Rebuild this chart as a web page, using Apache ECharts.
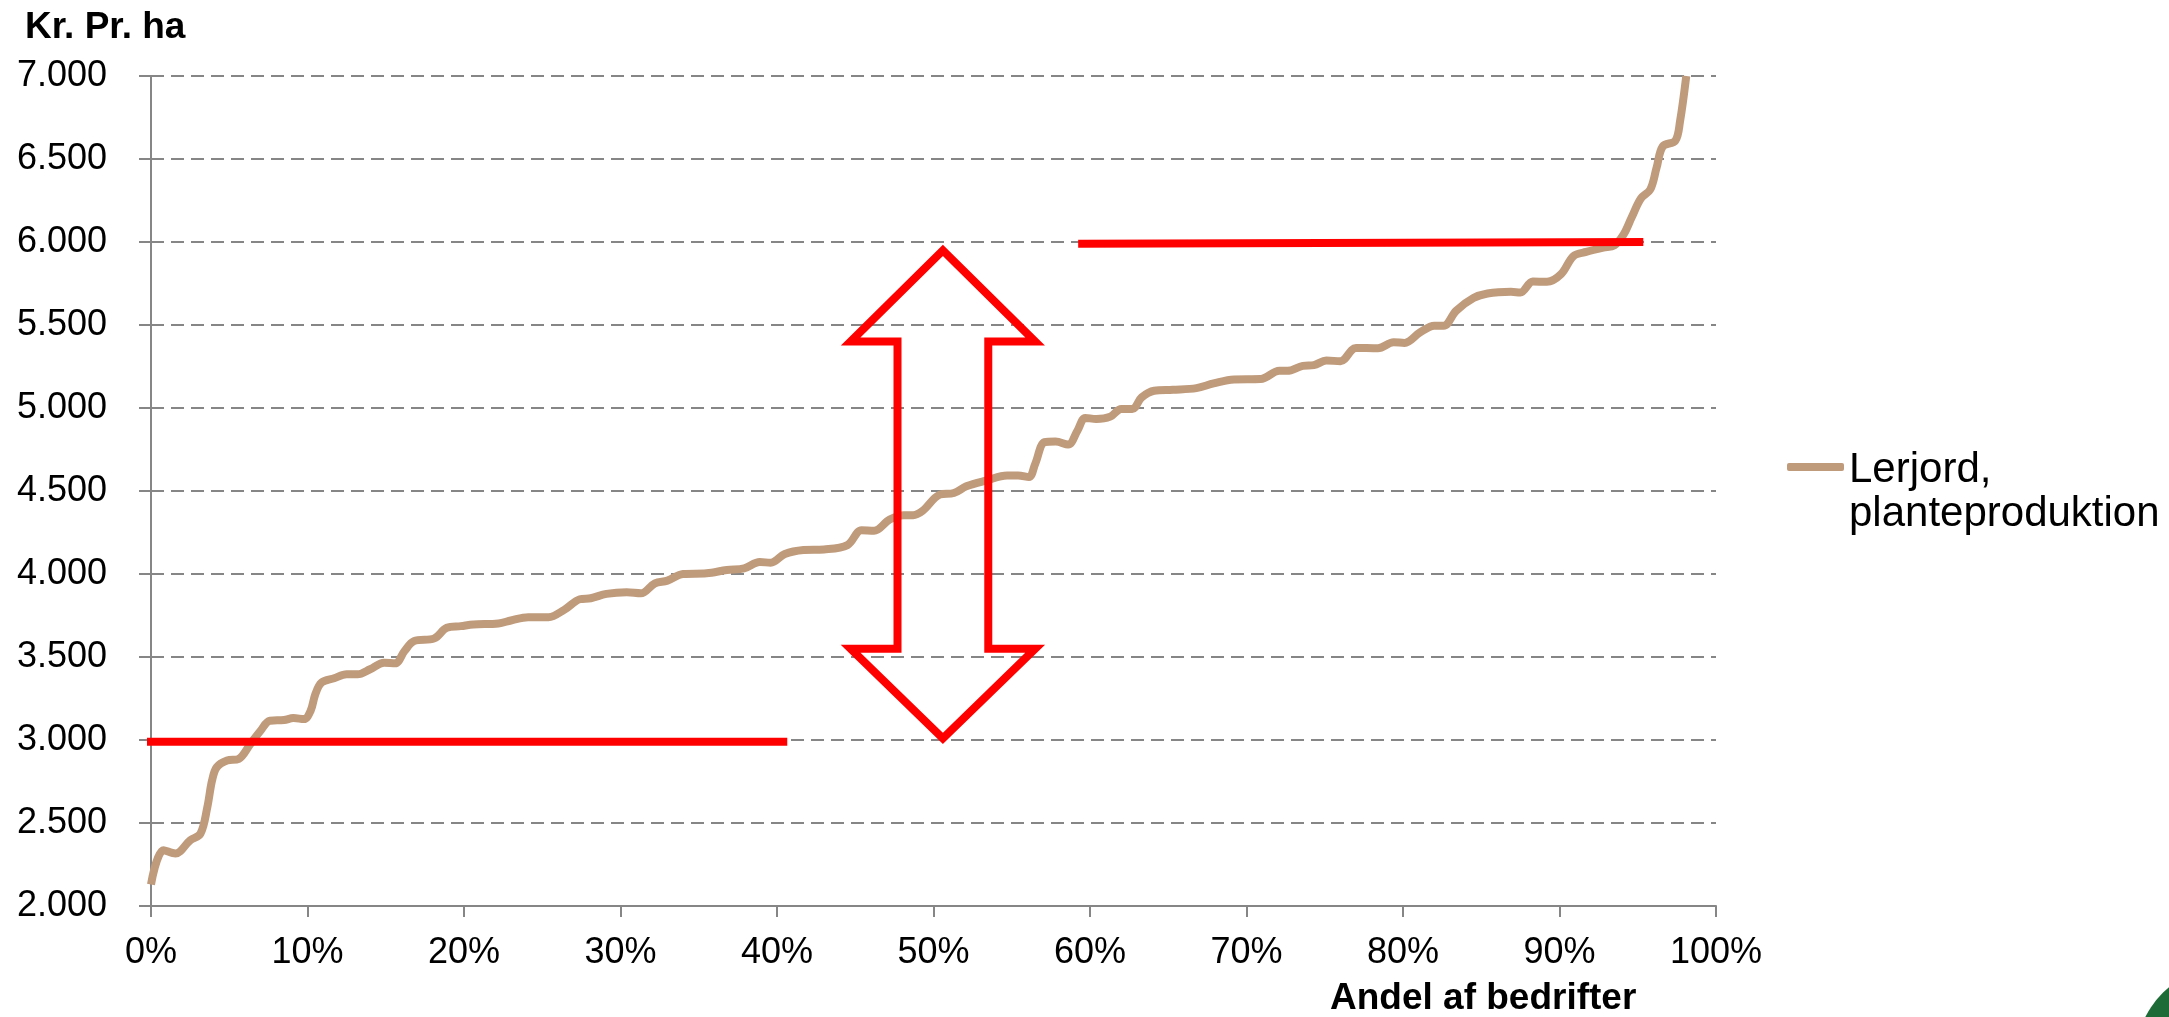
<!DOCTYPE html>
<html>
<head>
<meta charset="utf-8">
<script src="https://cdn.jsdelivr.net/npm/echarts@6/dist/echarts.min.js"></script>
<style>
html, body { margin: 0; padding: 0; background: #fff; }
#chart { width: 2169px; height: 1017px; }
</style>
</head>
<body>
<div id="chart"></div>
<script>
// andel af bedrifter (%) - aflæst fra kurven
var andel = [0, 0.8, 1.56, 2.5, 3.16, 3.6, 3.9, 4.2, 4.86, 5.6, 6.35, 7.0, 7.6, 8.5, 9.1, 9.77,
    10.2, 10.5, 10.9, 11.7, 12.5, 13.2, 14.0, 14.9, 15.6, 16.2, 16.8, 18.1, 18.9, 19.8,
    20.6, 22.2, 23.0, 24.1, 25.4, 26.4, 27.4, 28.1, 29.1, 30.4, 31.3, 32.2, 33.0, 34.0,
    35.5, 36.8, 37.9, 38.9, 39.6, 40.5, 41.7, 43.0, 44.5, 45.4, 46.2, 47.2, 48.1, 48.7,
    49.3, 50.4, 51.3, 52.1, 53.4, 54.7, 55.4, 56.1, 56.5, 57.1, 57.8, 58.6, 59.2, 59.7,
    60.4, 61.3, 62.0, 62.7, 63.3, 64.1, 65.3, 66.8, 67.9, 69.2, 70.9, 72.1, 72.6, 73.6,
    74.3, 75.1, 76.0, 77.0, 78.4, 79.4, 80.1, 81.1, 82.0, 82.6, 83.4, 84.5, 85.4, 86.9,
    87.5, 88.3, 89.2, 90.1, 90.9, 91.7, 92.8, 93.5, 94.1, 94.6, 95.2, 95.8, 96.2, 96.6,
    97.4, 97.7, 98.1];
// kr. pr. ha
var krPrHa = [2130, 2336, 2316, 2396, 2436, 2596, 2756, 2836, 2876, 2886, 2976, 3056, 3116, 3120, 3132, 3126,
    3176, 3276, 3346, 3372, 3396, 3396, 3426, 3466, 3462, 3536, 3596, 3612, 3676, 3686,
    3696, 3702, 3720, 3740, 3740, 3784, 3848, 3854, 3880, 3890, 3884, 3944, 3960, 4000,
    4004, 4024, 4034, 4072, 4068, 4120, 4144, 4148, 4174, 4264, 4260, 4328, 4354, 4354,
    4380, 4478, 4488, 4528, 4564, 4594, 4594, 4584, 4664, 4794, 4798, 4780, 4864, 4940,
    4934, 4948, 4994, 4994, 5064, 5104, 5110, 5120, 5148, 5172, 5174, 5224, 5224, 5254,
    5258, 5286, 5282, 5362, 5360, 5396, 5392, 5456, 5496, 5496, 5586, 5662, 5690, 5700,
    5696, 5762, 5760, 5806, 5916, 5940, 5966, 5980, 6046, 6146, 6262, 6316, 6446, 6576,
    6610, 6726, 7000];

// røde markeringer (andel %, kr. pr. ha)
var lavNiveau = [[0, 2990], [40.4, 2990]];
var hoejNiveau = [[59.5, 5990], [95.1, 6000]];
var pil = [[47.7, 4500], [47.7, 5400], [44.7, 5400], [50.6, 5950], [56.5, 5400], [53.5, 5400],
    [53.5, 3550], [56.5, 3550], [50.6, 3010], [44.7, 3550], [47.7, 3550], [47.7, 4500]];

var yMin = 2000, yMax = 7000, yStep = 500;
var xMin = 0, xMax = 100, xStep = 10;

var font = '"Liberation Sans", Arial, sans-serif';
var tan = '#bf9a7b';
var red = '#ff0000';
var grey = '#868686';

var kurve = [];
for (var i = 0; i < andel.length; i++) {
    kurve.push([andel[i], krPrHa[i]]);
}

var chart = echarts.init(document.getElementById('chart'));
var option = {
    backgroundColor: '#fff',
    animation: false,
    title: [{
        text: 'Kr. Pr. ha',
        left: 25, top: 9, padding: 0,
        textStyle: { fontSize: 37, fontWeight: 'bold', color: '#000', fontFamily: font }
    }, {
        text: 'Andel af bedrifter',
        left: 1330, top: 980, padding: 0,
        textStyle: { fontSize: 37, fontWeight: 'bold', color: '#000', fontFamily: font }
    }],
    legend: {
        data: ['Lerjord, planteproduktion'],
        orient: 'vertical',
        left: 1787, top: 418,
        padding: 0,
        icon: 'roundRect',
        itemWidth: 57, itemHeight: 8,
        selectedMode: false,
        // tom første linje, så "Lerjord," står ud for stregen
        formatter: function (n) {
            var p = n.split(', ');
            return '{pad| }\n{txt|' + p[0] + ',}\n{txt|' + p[1] + '}';
        },
        textStyle: {
            color: '#000', fontFamily: font, fontSize: 42,
            rich: {
                pad: { fontSize: 10, lineHeight: 50 },
                txt: { fontSize: 42, lineHeight: 44, color: '#000', fontFamily: font }
            }
        }
    },
    grid: { left: 151, right: 453, top: 76, bottom: 111 },
    xAxis: {
        type: 'value',
        min: xMin, max: xMax, interval: xStep,
        axisLine: { show: true, lineStyle: { color: grey, width: 2 } },
        axisTick: { show: true, length: 11, lineStyle: { color: grey, width: 2 } },
        axisLabel: { formatter: '{value}%', fontSize: 36, color: '#000', margin: 29, fontFamily: font },
        splitLine: { show: false }
    },
    yAxis: {
        type: 'value',
        min: yMin, max: yMax, interval: yStep,
        axisLine: { show: true, lineStyle: { color: grey, width: 2 } },
        axisTick: { show: true, length: 12, lineStyle: { color: grey, width: 2 } },
        axisLabel: {
            fontSize: 36, color: '#000', margin: 44, fontFamily: font,
            formatter: function (v) { return (v / 1000).toFixed(3); }
        },
        splitLine: { show: true, lineStyle: { color: grey, width: 2, type: [13, 7] } }
    },
    graphic: [{
        type: 'circle',
        shape: { cx: 2230, cy: 1060, r: 95 },
        style: { fill: '#1d6b36' }
    }],
    series: [{
        name: 'Lerjord, planteproduktion',
        type: 'line',
        data: kurve,
        smooth: 0.35,
        symbol: 'none',
        showSymbol: false,
        itemStyle: { color: tan },
        lineStyle: { color: tan, width: 8 },
        z: 2
    }, {
        type: 'line',
        data: lavNiveau,
        symbol: 'none',
        silent: true,
        clip: false,
        lineStyle: { color: red, width: 8, cap: 'square' },
        z: 3
    }, {
        type: 'line',
        data: hoejNiveau,
        symbol: 'none',
        silent: true,
        clip: false,
        lineStyle: { color: red, width: 8, cap: 'square' },
        z: 3
    }, {
        type: 'line',
        data: pil,
        symbol: 'none',
        silent: true,
        clip: false,
        lineStyle: { color: red, width: 8, join: 'miter' },
        z: 3
    }]
};
chart.setOption(option);
</script>
</body>
</html>
